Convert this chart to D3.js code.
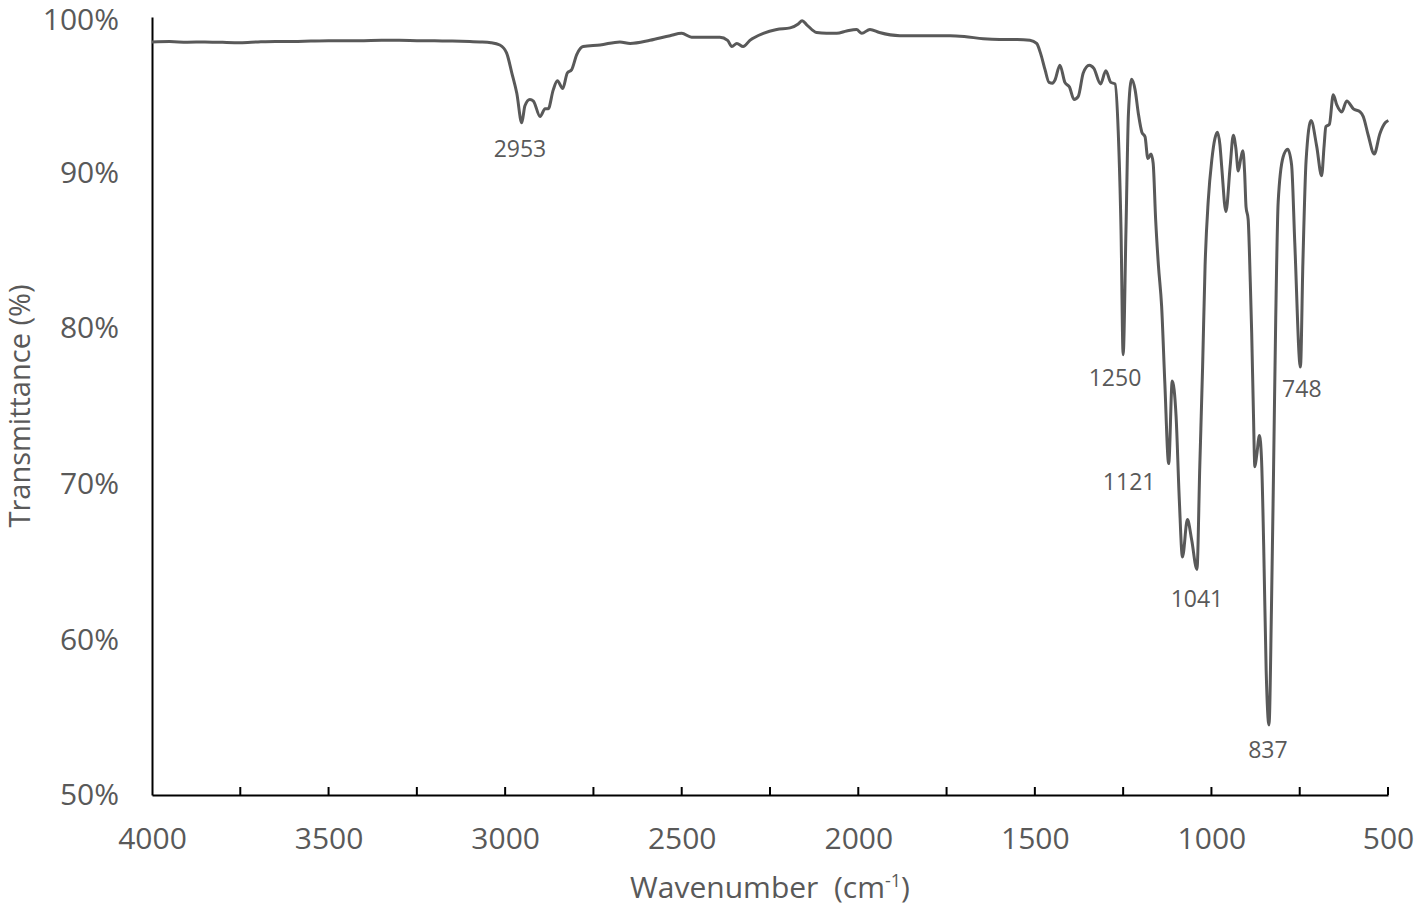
<!DOCTYPE html>
<html>
<head>
<meta charset="utf-8">
<script src="https://cdn.jsdelivr.net/npm/d3@7"></script>
<style>
  body { margin: 0; background: #fff; }
  text { font-family: "Open Sans", sans-serif; fill: #595959; }
</style>
</head>
<body>
<div id="chart"></div>
<script>
"use strict";

///////////////////////////////////////////////////
// 1.0 data                //
///////////////////////////////////////////////////
var wavenumbers = [
  4000, 3950, 3900, 3850, 3800, 3750, 3700, 3650, 3600, 3550, 3500, 3450, 3400, 3350,
  3300, 3250, 3200, 3150, 3100, 3071, 3040, 3015, 2996, 2981, 2967, 2953, 2944, 2930,
  2920, 2901, 2887, 2878, 2864, 2852, 2837, 2824, 2812, 2797, 2779, 2731, 2675, 2646,
  2590, 2533, 2500, 2472, 2439, 2392, 2370, 2358, 2344, 2326, 2307, 2269, 2231, 2193,
  2170, 2159, 2146, 2118, 2090, 2061, 2033, 2005, 1990, 1967, 1940, 1882, 1800, 1740,
  1700, 1646, 1600, 1550, 1514, 1495, 1483, 1471, 1460, 1450, 1443, 1429, 1415, 1402,
  1389, 1377, 1363, 1346, 1333, 1314, 1299, 1285, 1273, 1264, 1256, 1250, 1242, 1235,
  1226, 1216, 1207, 1197, 1188, 1180, 1171, 1165, 1158, 1150, 1141, 1132, 1121, 1111,
  1100, 1091, 1082, 1068, 1056, 1041, 1033, 1025, 1018, 1009, 999, 990, 983, 976,
  971, 959, 947, 938, 931, 924, 917, 911, 906, 902, 896, 890, 886, 881,
  877, 872, 864, 858, 852, 845, 837, 830, 824, 818, 811, 797, 784, 773,
  764, 748, 741, 732, 718, 702, 688, 681, 676, 666, 655, 645, 631, 617,
  598, 579, 570, 556, 539, 523, 508, 499
];
var transmittance = [
  98.40, 98.42, 98.38, 98.40, 98.37, 98.35, 98.40, 98.43, 98.42, 98.45, 98.47, 98.47, 98.48, 98.50,
  98.50, 98.48, 98.47, 98.45, 98.42, 98.40, 98.35, 98.20, 97.70, 96.40, 95.10, 93.20, 94.30, 94.70,
  94.60, 93.60, 94.10, 94.10, 95.30, 95.90, 95.40, 96.40, 96.60, 97.60, 98.10, 98.20, 98.40, 98.30,
  98.50, 98.80, 98.95, 98.70, 98.70, 98.70, 98.50, 98.10, 98.30, 98.10, 98.50, 98.95, 99.20, 99.30,
  99.55, 99.76, 99.50, 99.00, 98.95, 98.95, 99.10, 99.20, 98.95, 99.20, 99.00, 98.80, 98.80, 98.80,
  98.75, 98.60, 98.55, 98.55, 98.50, 98.30, 97.60, 96.60, 95.80, 95.75, 95.95, 96.90, 95.80, 95.50,
  94.70, 94.90, 96.40, 96.90, 96.70, 95.70, 96.55, 95.80, 95.70, 92.70, 86.30, 78.30, 86.30, 93.80,
  96.00, 95.30, 93.80, 92.60, 92.30, 90.90, 91.20, 90.60, 87.00, 84.00, 81.40, 76.50, 71.30, 76.60,
  74.30, 69.00, 65.30, 67.70, 66.40, 64.50, 71.10, 77.50, 84.00, 88.20, 90.80, 92.20, 92.60, 91.80,
  90.40, 87.50, 90.40, 92.40, 91.60, 90.10, 90.90, 91.40, 90.00, 87.80, 87.00, 83.00, 79.70, 74.50,
  71.10, 71.80, 73.10, 71.50, 66.00, 58.00, 54.50, 62.00, 71.00, 80.50, 88.10, 91.00, 91.50, 90.50,
  85.50, 77.50, 84.20, 90.75, 93.35, 91.70, 89.80, 91.70, 92.95, 93.10, 95.00, 94.35, 93.90, 94.60,
  94.10, 93.90, 93.60, 92.40, 91.20, 92.50, 93.20, 93.35
];

// peak labels, and the (wavenumber, transmittance) where each label's baseline sits
var peakLabels = ["2953", "1250", "1121", "1041", "837", "748"];
var peakLabelX = [2958, 1273, 1233, 1041, 840, 744];
var peakLabelY = [91.0, 76.3, 69.6, 62.1, 52.4, 75.6];

var xTicks = [4000, 3500, 3000, 2500, 2000, 1500, 1000, 500];
var xMinorTicks = d3.range(4000, 499, -250);
var yTicks = [50, 60, 70, 80, 90, 100];

///////////////////////////////////////////////////
// 2.0 layout                                    //
///////////////////////////////////////////////////
var W = 1416, H = 909;
var margin = {top: 17, right: 28, bottom: 114, left: 152};
var width = W - margin.left - margin.right;
var height = H - margin.top - margin.bottom;

var x = d3.scaleLinear().domain([4000, 500]).range([0, width]);
var y = d3.scaleLinear().domain([50, 100]).range([height, 0]);

var data = wavenumbers.map(function(w, i) { return {w: w, t: transmittance[i]}; });

var line = d3.line()
  .curve(d3.curveMonotoneX)
  .x(function(d) { return x(d.w); })
  .y(function(d) { return y(d.t); });

var svg = d3.select("#chart").append("svg")
  .attr("width", W)
  .attr("height", H);
var g = svg.append("g")
  .attr("transform", "translate(" + margin.left + "," + margin.top + ")");

///////////////////////////////////////////////////
// 3.0 axes                                      //
///////////////////////////////////////////////////
var xAxis = g.append("g").attr("class", "axis axis--x")
  .attr("transform", "translate(0," + height + ")")
  .call(d3.axisBottom(x).tickValues(xTicks).tickSize(0).tickPadding(33).tickFormat(d3.format("d")));
xAxis.select(".domain").attr("stroke", "#000").attr("stroke-width", 2);
xAxis.selectAll("text").style("font-size", "30px").attr("fill", "#595959");

// little inside ticks every 250
g.append("g").attr("class", "minor")
  .selectAll("line").data(xMinorTicks.slice(1))
  .enter().append("line")
  .attr("x1", function(d) { return x(d); })
  .attr("x2", function(d) { return x(d); })
  .attr("y1", height)
  .attr("y2", height - 8)
  .attr("stroke", "#000")
  .attr("stroke-width", 2);

var yAxis = g.append("g").attr("class", "axis axis--y")
  .call(d3.axisLeft(y).tickValues(yTicks).tickSize(0).tickPadding(33)
    .tickFormat(function(d) { return d + "%"; }));
yAxis.select(".domain").attr("stroke", "#000").attr("stroke-width", 2);
yAxis.selectAll("text").style("font-size", "30px").attr("fill", "#595959");
// keep the top label inside the page
yAxis.selectAll(".tick").filter(function(d) { return d === 100; })
  .select("text").attr("dy", "0.4em");

// axis titles
var xTitle = svg.append("text")
  .attr("x", margin.left + width / 2)
  .attr("y", 898)
  .attr("text-anchor", "middle")
  .style("font-size", "30px")
  .style("white-space", "pre");
xTitle.append("tspan").text("Wavenumber  (cm");
xTitle.append("tspan").attr("dy", -11).style("font-size", "18px").text("-1");
xTitle.append("tspan").attr("dy", 11).text(")");

svg.append("text")
  .attr("transform", "translate(30," + (margin.top + height / 2) + ") rotate(-90)")
  .attr("text-anchor", "middle")
  .style("font-size", "29px")
  .text("Transmittance (%)");

///////////////////////////////////////////////////
// 4.0 spectrum and peak labels                  //
///////////////////////////////////////////////////
g.append("path")
  .datum(data)
  .attr("class", "line")
  .attr("d", line)
  .attr("fill", "none")
  .attr("stroke", "#595959")
  .attr("stroke-width", 3)
  .attr("stroke-linejoin", "round");

g.append("g").attr("class", "labels")
  .selectAll("text").data(peakLabels)
  .enter().append("text")
  .attr("x", function(d, i) { return x(peakLabelX[i]); })
  .attr("y", function(d, i) { return y(peakLabelY[i]); })
  .attr("text-anchor", "middle")
  .style("font-size", "23px")
  .text(function(d) { return d; });
</script>
</body>
</html>
